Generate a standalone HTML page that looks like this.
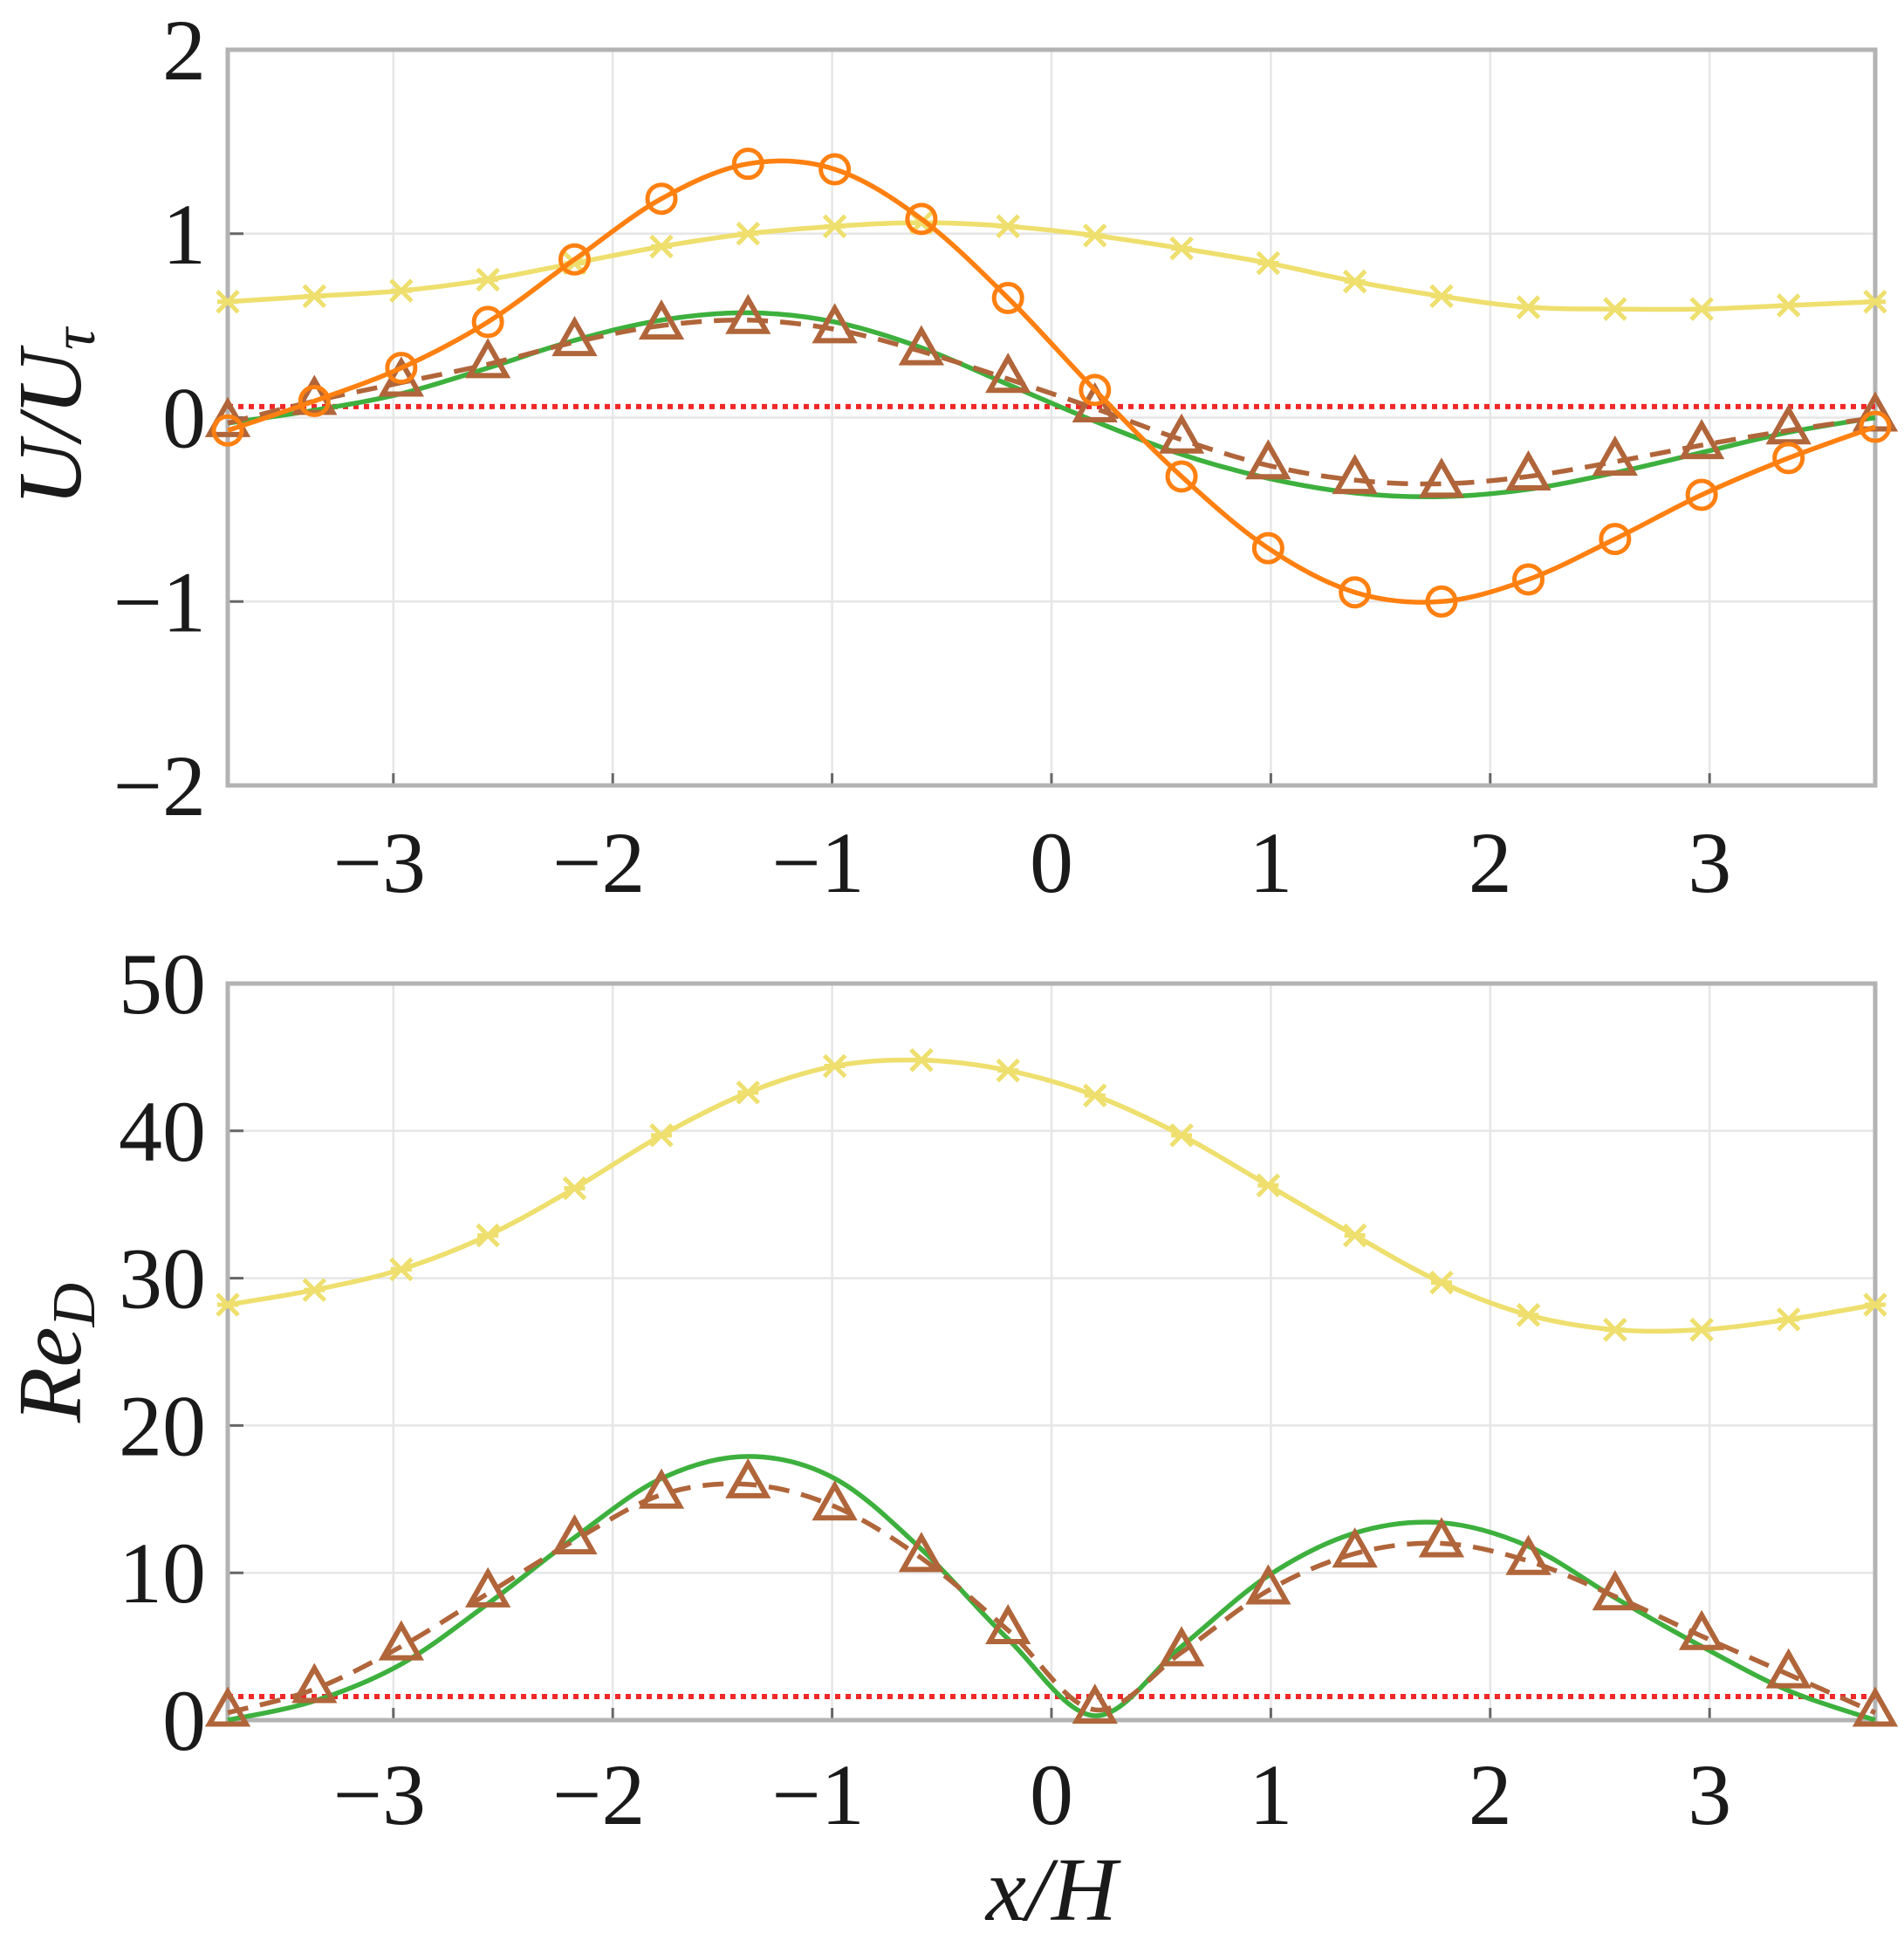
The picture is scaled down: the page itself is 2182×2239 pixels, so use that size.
<!DOCTYPE html>
<html><head><meta charset="utf-8"><style>
html,body{margin:0;padding:0;background:#fff;}
svg text{font-family:"Liberation Serif",serif;fill:#1a1a1a;}
</style></head><body>
<svg id="fig" width="2182" height="2234" viewBox="0 0 2182 2234" xmlns="http://www.w3.org/2000/svg"></svg>
<script>
// shared x positions of markers
const xs = [-3.755,-3.36,-2.964,-2.569,-2.174,-1.778,-1.383,-0.988,-0.593,-0.198,0.198,0.593,0.988,1.383,1.778,2.174,2.569,2.964,3.36,3.755];
const xTicks = [-3,-2,-1,0,1,2,3];
const xTickLabels = ["−3","−2","−1","0","1","2","3"];
// top panel U/U_tau
const topYellow = [0.63,0.66,0.69,0.75,0.84,0.93,1.0,1.04,1.06,1.04,0.99,0.92,0.84,0.74,0.66,0.60,0.59,0.59,0.61,0.63];
const topOrange = [-0.07,0.09,0.27,0.52,0.86,1.19,1.38,1.35,1.08,0.65,0.15,-0.32,-0.71,-0.95,-1.0,-0.88,-0.66,-0.42,-0.22,-0.05];
const topGreen = [-0.03,0.04,0.13,0.27,0.42,0.53,0.57,0.52,0.38,0.18,-0.02,-0.2,-0.33,-0.41,-0.43,-0.39,-0.3,-0.19,-0.08,0.0];
const topBrown = [-0.03,0.09,0.19,0.29,0.41,0.5,0.53,0.48,0.36,0.21,0.05,-0.12,-0.26,-0.34,-0.36,-0.32,-0.24,-0.15,-0.07,0.0];
const topRef = 0.06;
const topYTicks = [2,1,0,-1,-2];
const topYTickLabels = ["2","1","0","−1","−2"];
// bottom panel Re_D
const botYellow = [28.2,29.2,30.6,32.9,36.1,39.7,42.6,44.4,44.8,44.1,42.4,39.7,36.3,32.9,29.7,27.5,26.5,26.5,27.2,28.2];
const botGreen = [0,1.3,3.8,7.9,12.4,16.4,17.9,16.4,11.6,5.5,0.3,5.0,9.8,12.7,13.4,11.8,8.3,5.0,2.0,0];
const botBrown = [0.5,2.1,5.0,8.6,12.2,15.3,16.0,14.5,11.0,6.1,0.7,4.6,8.8,11.3,12.0,10.8,8.4,5.7,3.1,0.5];
const botRef = 1.6;
const botYTicks = [50,40,30,20,10,0];
const botYTickLabels = ["50","40","30","20","10","0"];

const NS="http://www.w3.org/2000/svg";
const svg=document.getElementById('fig');
function mk(tag,attrs,parent){const e=document.createElementNS(NS,tag);for(const k in attrs)e.setAttribute(k,attrs[k]);(parent||svg).appendChild(e);return e;}
const C={yellow:"#EEDF6E",orange:"#FF8010",green:"#3DB03D",brown:"#B0653A",red:"#F02828"};

function spline(pts){
  let d=`M${pts[0][0]},${pts[0][1]}`;
  for(let i=0;i<pts.length-1;i++){
    const p0=pts[Math.max(i-1,0)],p1=pts[i],p2=pts[i+1],p3=pts[Math.min(i+2,pts.length-1)];
    const c1=[p1[0]+(p2[0]-p0[0])/6,p1[1]+(p2[1]-p0[1])/6];
    const c2=[p2[0]-(p3[0]-p1[0])/6,p2[1]-(p3[1]-p1[1])/6];
    d+=` C${c1[0]},${c1[1]} ${c2[0]},${c2[1]} ${p2[0]},${p2[1]}`;
  }
  return d;
}

function panel(cfg){
  const L=261,R=2149,T=cfg.top,B=cfg.bottom;
  const xmin=-3.755,xmax=3.755;
  const sx=v=>L+(v-xmin)/(xmax-xmin)*(R-L);
  const sy=v=>B-(v-cfg.ymin)/(cfg.ymax-cfg.ymin)*(B-T);
  const g=mk('g',{});
  
  
  xTicks.forEach((t,i)=>{
    const l=mk('line',{x1:sx(t),x2:sx(t),y1:T,y2:B,stroke:"#e6e6e6","stroke-width":2.5},g);
    
    
    const tk=mk('line',{x1:sx(t),x2:sx(t),y1:B,y2:B-14,stroke:"#666","stroke-width":3},g);
    
    
    const tx=mk('text',{x:sx(t)-(t<0?16:0),y:cfg.xlabY,"font-size":100,"text-anchor":"middle"},g);
    tx.textContent=xTickLabels[i];
    
    
  });
  cfg.yticks.forEach((t,i)=>{
    const l=mk('line',{x1:L,x2:R,y1:sy(t),y2:sy(t),stroke:"#e6e6e6","stroke-width":2.5},g);
    
    
    const tk=mk('line',{x1:L,x2:L+18,y1:sy(t),y2:sy(t),stroke:"#666","stroke-width":3},g);
    
    
    const tx=mk('text',{x:236,y:sy(t)+34,"font-size":100,"text-anchor":"end"},g);
    tx.textContent=cfg.ylabels[i];
    
    
  });
  const box=mk('rect',{x:L,y:T,width:R-L,height:B-T,fill:"none",stroke:"#b3b3b3","stroke-width":5},g);
  
  
  const ref=mk('line',{x1:L,x2:R,y1:sy(cfg.ref),y2:sy(cfg.ref),stroke:C.red,"stroke-width":6,"stroke-dasharray":"6 6"},g);
  
  
  cfg.series.forEach(s=>{
    const pts=xs.map((x,i)=>[sx(x),sy(s.data[i])]);
    const p=mk('path',{d:spline(pts),fill:"none",stroke:C[s.color],"stroke-width":5.5},g);
    if(s.dash)p.setAttribute('stroke-dasharray',s.dash);
    
    
    if(!s.marker)return;
    pts.forEach(([px,py])=>{
      let m;
      if(s.marker==='o'){
        m=mk('circle',{cx:px,cy:py,r:16,fill:"none",stroke:C[s.color],"stroke-width":5},g);
      }else if(s.marker==='^'){
        m=mk('polygon',{points:`${px},${py-24} ${px-21},${py+13} ${px+21},${py+13}`,fill:"none",stroke:C[s.color],"stroke-width":6},g);
      }else{
        const r=12;
        m=mk('path',{d:`M${px-r},${py-r}L${px+r},${py+r}M${px-r},${py+r}L${px+r},${py-r}M${px-r},${py}L${px+r},${py}`,fill:"none",stroke:C[s.color],"stroke-width":5},g);
      }
      
      
    });
  });
}

panel({name:'top-panel',top:57,bottom:900,ymin:-2,ymax:2,yticks:topYTicks,ylabels:topYTickLabels,xlabY:1022,ref:topRef,
  series:[
    {name:'yellow-series',color:'yellow',data:topYellow,marker:'x'},
    {name:'green-series',color:'green',data:topGreen},
    {name:'brown-series',color:'brown',data:topBrown,marker:'^',dash:"24 14"},
    {name:'orange-series',color:'orange',data:topOrange,marker:'o'}
  ]});
panel({name:'bottom-panel',top:1127,bottom:1971,ymin:0,ymax:50,yticks:botYTicks,ylabels:botYTickLabels,xlabY:2090,ref:botRef,
  series:[
    {name:'yellow-series',color:'yellow',data:botYellow,marker:'x'},
    {name:'green-series',color:'green',data:botGreen},
    {name:'brown-series',color:'brown',data:botBrown,marker:'^',dash:"24 14"}
  ]});

let t=mk('text',{x:0,y:0,"font-size":104,"font-style":"italic","text-anchor":"middle",transform:"translate(92,478) rotate(-90)"});
t.innerHTML='U/U<tspan font-size="70" dy="16">τ</tspan>';


t=mk('text',{x:0,y:0,"font-size":104,"font-style":"italic","text-anchor":"middle",transform:"translate(92,1550) rotate(-90)"});
t.innerHTML='Re<tspan font-size="70" dy="16">D</tspan>';


t=mk('text',{x:1205,y:2200,"font-size":104,"font-style":"italic","text-anchor":"middle"});
t.textContent='x/H';


</script>
</body></html>
